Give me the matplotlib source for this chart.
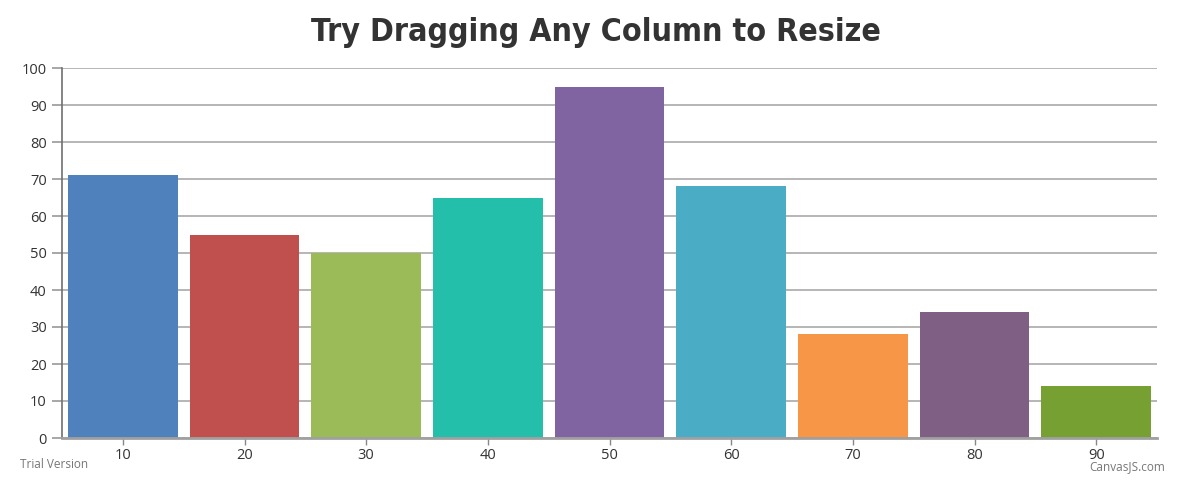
import matplotlib.pyplot as plt

# data
categories = [10, 20, 30, 40, 50, 60, 70, 80, 90]
values = [71, 55, 50, 65, 95, 68, 28, 34, 14]
colors = ['#4F81BC', '#C0504E', '#9BBB58', '#23BFAA', '#8064A1',
          '#4AACC5', '#F79647', '#7F6084', '#77A033']
y_ticks = list(range(0, 101, 10))

plt.rcParams['font.family'] = ['Open Sans', 'DejaVu Sans']

fig = plt.figure(figsize=(11.92, 5.04), dpi=100)
ax = fig.add_axes([62 / 1192, 66 / 504, (1157 - 62) / 1192, (438 - 68) / 504])

ax.bar(categories, values, width=9.0, color=colors, zorder=3)

ax.set_xlim(5, 95)
ax.set_ylim(0, 100)
ax.set_xticks(categories)
ax.set_yticks(y_ticks)
ax.grid(axis='y', color='#b0b0b0', linewidth=1.3, zorder=0)
ax.tick_params(axis='y', length=7, color='#a0a0a0', width=1.3, labelsize=10.5,
               labelcolor='#333333', pad=4)
ax.tick_params(axis='x', length=5, color='#888888', width=1, labelsize=10.5,
               labelcolor='#333333', pad=2)

for s in ['top', 'right']:
    ax.spines[s].set_visible(False)
ax.spines['left'].set_color('#707070')
ax.spines['left'].set_linewidth(1.2)
ax.spines['bottom'].set_color('#a0a0a0')
ax.spines['bottom'].set_linewidth(2)
ax.spines['bottom'].set_zorder(4)

fig.text(0.5, 1 - 33 / 504, 'Try Dragging Any Column to Resize', ha='center', va='center',
         fontsize=23, fontweight='heavy', color='#333333',
         family='DejaVu Sans', fontstretch='condensed')
fig.text(20 / 1192, 1 - 465 / 504, 'Trial Version', ha='left', va='center',
         fontsize=8.5, color='#777777')
fig.text(1165 / 1192, 1 - 467 / 504, 'CanvasJS.com', ha='right', va='center',
         fontsize=8.5, color='#777777')

plt.savefig('out.png', dpi=100)
